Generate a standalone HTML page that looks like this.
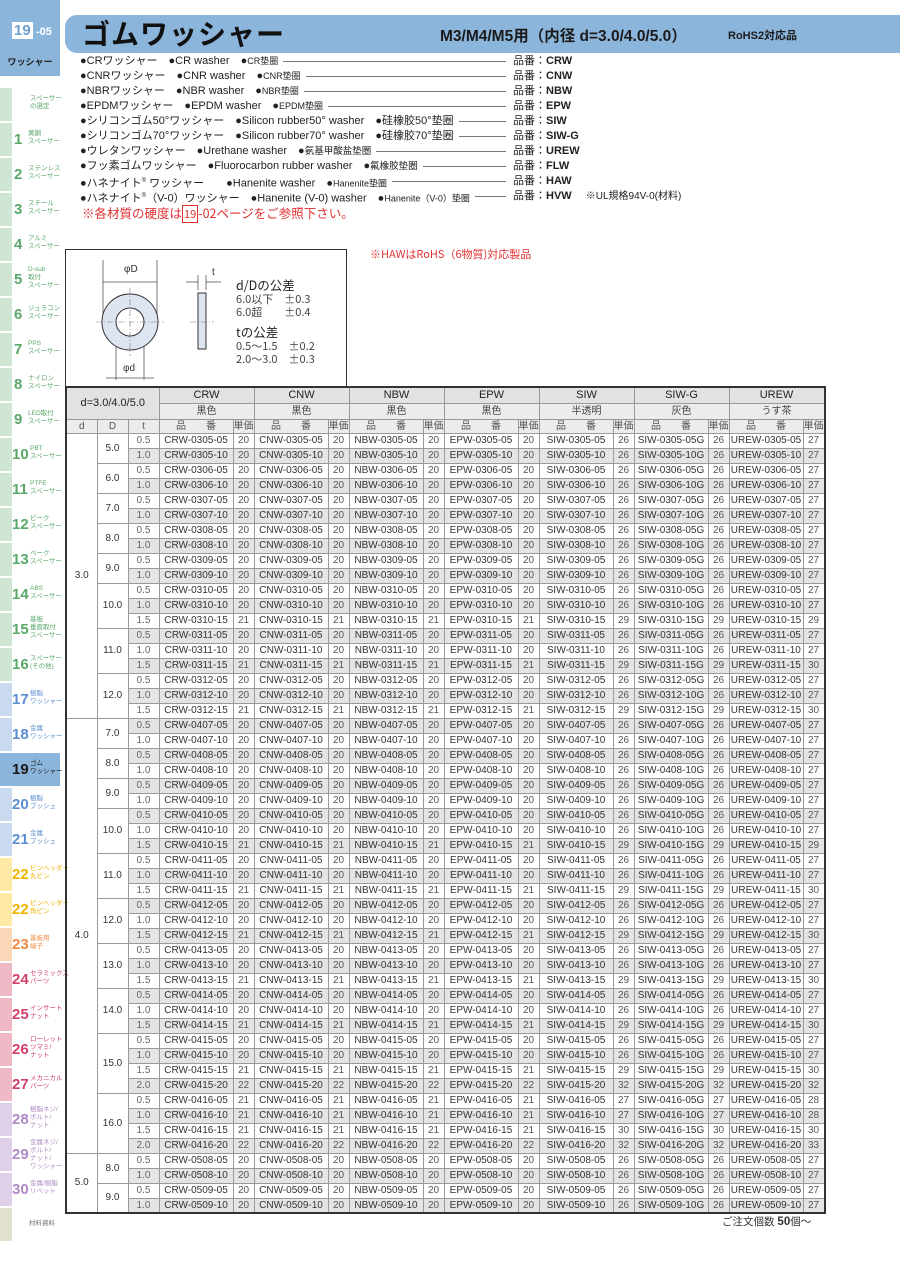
<!DOCTYPE html>
<html><head><meta charset="utf-8">
<style>
*{margin:0;padding:0;box-sizing:border-box}
body{width:900px;height:1272px;background:#fff;position:relative;overflow:hidden;font-family:"Liberation Sans","Noto Sans CJK JP",sans-serif;color:#222}
.abs{position:absolute}
.jp{font-family:"Noto Sans CJK JP","Liberation Sans",sans-serif}
#top{left:0;top:0;width:60px;height:76px;background:#8cb5dc}
#top .n{position:absolute;left:12px;top:22px;background:#fff;color:#6e9fcf;font-weight:bold;font-size:15px;line-height:17px;padding:0 2px}
#top .s{position:absolute;left:36px;top:26px;color:#fff;font-weight:bold;font-size:11px}
#top .w{position:absolute;left:0;width:60px;top:55px;text-align:center;font-size:9px;font-weight:bold;color:#222}
.tab{position:absolute;left:0;width:60px;height:33px;background:#fff}
.tab .st{position:absolute;left:0;top:0;width:12px;height:33px}
.tab .num{position:absolute;left:14px;top:8px;font-size:15px;font-weight:bold;line-height:17px}
.tab .lb{position:absolute;left:28px;top:7px;font-size:6.5px;line-height:8px;white-space:nowrap}
.tab.wide .num{left:12px}
.tab.wide .lb{left:30px}
#bar{left:65px;top:15px;width:835px;height:38px;background:#8cb5dc;border-radius:12px 0 0 12px}
#bar .t{position:absolute;left:17px;top:0px;font-size:28px;line-height:36px;font-weight:bold;color:#111;letter-spacing:1px}
#bar .m{position:absolute;left:375px;top:9px;font-size:15.5px;font-weight:bold;color:#1a1a1a}
#bar .r{position:absolute;left:663px;top:12px;font-size:11px;font-weight:bold;color:#1a1a1a}
.sp{left:80px;width:430px;display:flex;font-size:11px;line-height:15px;white-space:nowrap;color:#222}
.sp .f{flex:1;border-top:1px solid #777;margin:7px 4px 0 5px;height:0}
.pn{left:513px;font-size:11px;line-height:15px;white-space:nowrap}
.pn b{font-weight:bold}
#diag{left:65px;top:249px;width:282px;height:138px;border:1.5px solid #333;border-bottom:none}
table{position:absolute;left:65px;top:386px;border-collapse:collapse;table-layout:fixed;font-size:10px;border:2px solid #333}
td{border:1px solid #999;height:15px;line-height:13px;text-align:center;white-space:nowrap;overflow:hidden;color:#333;padding:0}
tr.g td.s{background:#e4e4e4}
td.p{color:#555}
td.t{color:#666}
.h1 td{background:#e2e2e2;height:16px;font-size:11px;color:#222}
.h2 td{background:#ececec;height:16px;font-size:10px;color:#444}
.h3 td{background:#ececec;height:14px;font-size:10px;color:#555}
td.gl{border-left:1.5px solid #666}
</style></head><body>

<div id="top" class="abs"><span class="n">19</span><span class="s">-05</span><div class="w jp">ワッシャー</div></div>

<div class="tab" style="top:88px"><div class="st" style="background:#cfe6d4"></div><div class="lb" style="color:#5aa86a;left:30px">スペーサー<br>の選定</div></div>
<div class="tab" style="top:123px"><div class="st" style="background:#cfe6d4"></div><div class="num" style="color:#5aa86a">1</div><div class="lb" style="color:#5aa86a">黄銅<br>スペーサー</div></div>
<div class="tab" style="top:158px"><div class="st" style="background:#cfe6d4"></div><div class="num" style="color:#5aa86a">2</div><div class="lb" style="color:#5aa86a">ステンレス<br>スペーサー</div></div>
<div class="tab" style="top:193px"><div class="st" style="background:#cfe6d4"></div><div class="num" style="color:#5aa86a">3</div><div class="lb" style="color:#5aa86a">スチール<br>スペーサー</div></div>
<div class="tab" style="top:228px"><div class="st" style="background:#cfe6d4"></div><div class="num" style="color:#5aa86a">4</div><div class="lb" style="color:#5aa86a">アルミ<br>スペーサー</div></div>
<div class="tab" style="top:263px"><div class="st" style="background:#cfe6d4"></div><div class="num" style="color:#5aa86a">5</div><div class="lb" style="color:#5aa86a;top:3px">D-sub<br>取付<br>スペーサー</div></div>
<div class="tab" style="top:298px"><div class="st" style="background:#cfe6d4"></div><div class="num" style="color:#5aa86a">6</div><div class="lb" style="color:#5aa86a">ジュラコン<br>スペーサー</div></div>
<div class="tab" style="top:333px"><div class="st" style="background:#cfe6d4"></div><div class="num" style="color:#5aa86a">7</div><div class="lb" style="color:#5aa86a">PPS<br>スペーサー</div></div>
<div class="tab" style="top:368px"><div class="st" style="background:#cfe6d4"></div><div class="num" style="color:#5aa86a">8</div><div class="lb" style="color:#5aa86a">ナイロン<br>スペーサー</div></div>
<div class="tab" style="top:403px"><div class="st" style="background:#cfe6d4"></div><div class="num" style="color:#5aa86a">9</div><div class="lb" style="color:#5aa86a">LED取付<br>スペーサー</div></div>
<div class="tab wide" style="top:438px"><div class="st" style="background:#cfe6d4"></div><div class="num" style="color:#5aa86a">10</div><div class="lb" style="color:#5aa86a">PBT<br>スペーサー</div></div>
<div class="tab wide" style="top:473px"><div class="st" style="background:#cfe6d4"></div><div class="num" style="color:#5aa86a">11</div><div class="lb" style="color:#5aa86a">PTFE<br>スペーサー</div></div>
<div class="tab wide" style="top:508px"><div class="st" style="background:#cfe6d4"></div><div class="num" style="color:#5aa86a">12</div><div class="lb" style="color:#5aa86a">ピーク<br>スペーサー</div></div>
<div class="tab wide" style="top:543px"><div class="st" style="background:#cfe6d4"></div><div class="num" style="color:#5aa86a">13</div><div class="lb" style="color:#5aa86a">ベーク<br>スペーサー</div></div>
<div class="tab wide" style="top:578px"><div class="st" style="background:#cfe6d4"></div><div class="num" style="color:#5aa86a">14</div><div class="lb" style="color:#5aa86a">ABS<br>スペーサー</div></div>
<div class="tab wide" style="top:613px"><div class="st" style="background:#cfe6d4"></div><div class="num" style="color:#5aa86a">15</div><div class="lb" style="color:#5aa86a;top:3px">基板<br>垂直取付<br>スペーサー</div></div>
<div class="tab wide" style="top:648px"><div class="st" style="background:#cfe6d4"></div><div class="num" style="color:#5aa86a">16</div><div class="lb" style="color:#5aa86a">スペーサー<br>(その他)</div></div>
<div class="tab wide" style="top:683px"><div class="st" style="background:#c9d9ef"></div><div class="num" style="color:#5b8ed0">17</div><div class="lb" style="color:#5b8ed0">樹脂<br>ワッシャー</div></div>
<div class="tab wide" style="top:718px"><div class="st" style="background:#c9d9ef"></div><div class="num" style="color:#5b8ed0">18</div><div class="lb" style="color:#5b8ed0">金属<br>ワッシャー</div></div>
<div class="tab wide" style="top:753px;background:#8cb5dc"><div class="num" style="color:#1a1a1a">19</div><div class="lb" style="color:#1a1a1a">ゴム<br>ワッシャー</div></div>
<div class="tab wide" style="top:788px"><div class="st" style="background:#c9d9ef"></div><div class="num" style="color:#5b8ed0">20</div><div class="lb" style="color:#5b8ed0">樹脂<br>ブッシュ</div></div>
<div class="tab wide" style="top:823px"><div class="st" style="background:#c9d9ef"></div><div class="num" style="color:#5b8ed0">21</div><div class="lb" style="color:#5b8ed0">金属<br>ブッシュ</div></div>
<div class="tab wide" style="top:858px"><div class="st" style="background:#fde8a6"></div><div class="num" style="color:#efb400">22</div><div class="lb" style="color:#efb400">ピンヘッダー<br>丸ピン</div></div>
<div class="tab wide" style="top:893px"><div class="st" style="background:#fde8a6"></div><div class="num" style="color:#efb400">22</div><div class="lb" style="color:#efb400">ピンヘッダー<br>角ピン</div></div>
<div class="tab wide" style="top:928px"><div class="st" style="background:#fbd7b8"></div><div class="num" style="color:#f08a40">23</div><div class="lb" style="color:#f08a40">基板用<br>端子</div></div>
<div class="tab wide" style="top:963px"><div class="st" style="background:#f0b9c6"></div><div class="num" style="color:#d0406a">24</div><div class="lb" style="color:#d0406a">セラミックス<br>パーツ</div></div>
<div class="tab wide" style="top:998px"><div class="st" style="background:#f0b9c6"></div><div class="num" style="color:#d0406a">25</div><div class="lb" style="color:#d0406a">インサート<br>ナット</div></div>
<div class="tab wide" style="top:1033px"><div class="st" style="background:#f0b9c6"></div><div class="num" style="color:#d0406a">26</div><div class="lb" style="color:#d0406a;top:3px">ローレット<br>ツマミ/<br>ナット</div></div>
<div class="tab wide" style="top:1068px"><div class="st" style="background:#f0b9c6"></div><div class="num" style="color:#d0406a">27</div><div class="lb" style="color:#d0406a">メカニカル<br>パーツ</div></div>
<div class="tab wide" style="top:1103px"><div class="st" style="background:#ddd0e8"></div><div class="num" style="color:#b08ac4">28</div><div class="lb" style="color:#b08ac4;top:3px">樹脂ネジ/<br>ボルト/<br>ナット</div></div>
<div class="tab wide" style="top:1138px"><div class="st" style="background:#ddd0e8"></div><div class="num" style="color:#b08ac4">29</div><div class="lb" style="color:#b08ac4;top:1px">金属ネジ/<br>ボルト/<br>ナット/<br>ワッシャー</div></div>
<div class="tab wide" style="top:1173px"><div class="st" style="background:#ddd0e8"></div><div class="num" style="color:#b08ac4">30</div><div class="lb" style="color:#b08ac4">金属/樹脂<br>リベット</div></div>
<div class="tab" style="top:1208px"><div class="st" style="background:#e0e0cc"></div><div class="lb" style="color:#777;left:29px;top:12px">材料資料</div></div>

<div id="bar" class="abs"><span class="t jp">ゴムワッシャー</span><span class="m">M3/M4/M5用（内径 d=3.0/4.0/5.0）</span><span class="r">RoHS2対応品</span></div>

<div class="abs sp" style="top:54px"><span>●CRワッシャー　●CR washer　●<span style="font-size:9px">CR垫圈</span></span><span class="f"></span></div>
<div class="abs sp" style="top:69px"><span>●CNRワッシャー　●CNR washer　●<span style="font-size:9px">CNR垫圈</span></span><span class="f"></span></div>
<div class="abs sp" style="top:84px"><span>●NBRワッシャー　●NBR washer　●<span style="font-size:9px">NBR垫圈</span></span><span class="f"></span></div>
<div class="abs sp" style="top:99px"><span>●EPDMワッシャー　●EPDM washer　●<span style="font-size:9px">EPDM垫圈</span></span><span class="f"></span></div>
<div class="abs sp" style="top:114px"><span>●シリコンゴム50°ワッシャー　●Silicon rubber50°  washer　●硅橡胶50°垫圈</span><span class="f"></span></div>
<div class="abs sp" style="top:129px"><span>●シリコンゴム70°ワッシャー　●Silicon rubber70°  washer　●硅橡胶70°垫圈</span><span class="f"></span></div>
<div class="abs sp" style="top:144px"><span>●ウレタンワッシャー　●Urethane washer　●<span style="font-size:9.5px">氨基甲酸盐垫圈</span></span><span class="f"></span></div>
<div class="abs sp" style="top:159px"><span>●フッ素ゴムワッシャー　●Fluorocarbon rubber washer　●<span style="font-size:9.5px">氟橡胶垫圈</span></span><span class="f"></span></div>
<div class="abs sp" style="top:174px"><span>●ハネナイト<sup style="font-size:6px">®</sup> ワッシャー　　●Hanenite washer　●<span style="font-size:9px">Hanenite垫圈</span></span><span class="f"></span></div>
<div class="abs sp" style="top:189px"><span>●ハネナイト<sup style="font-size:6px">®</sup>（V-0）ワッシャー　●Hanenite (V-0) washer　●<span style="font-size:9px">Hanenite（V-0）垫圈</span></span><span class="f"></span></div>
<div class="abs pn" style="top:54px">品番：<b>CRW</b></div>
<div class="abs pn" style="top:69px">品番：<b>CNW</b></div>
<div class="abs pn" style="top:84px">品番：<b>NBW</b></div>
<div class="abs pn" style="top:99px">品番：<b>EPW</b></div>
<div class="abs pn" style="top:114px">品番：<b>SIW</b></div>
<div class="abs pn" style="top:129px">品番：<b>SIW-G</b></div>
<div class="abs pn" style="top:144px">品番：<b>UREW</b></div>
<div class="abs pn" style="top:159px">品番：<b>FLW</b></div>
<div class="abs pn" style="top:174px">品番：<b>HAW</b></div>
<div class="abs pn" style="top:189px">品番：<b>HVW</b>　 <span style="font-size:10px">※UL規格94V-0(材料)</span></div>
<div class="abs jp" style="left:82px;top:203px;font-size:12.5px;color:#e03030;white-space:nowrap">※各材質の硬度は<span style="border:1px solid #e03030;padding:0 1px;font-size:11px">19</span>-02ページをご参照下さい。</div>
<div class="abs jp" style="left:370px;top:246px;font-size:11px;color:#e03030;white-space:nowrap">※HAWはRoHS（6物質)対応製品</div>

<div id="diag" class="abs">
<svg width="280" height="137" viewBox="0 0 280 137" style="position:absolute;left:0;top:0">
<g stroke="#555" stroke-width="0.8" fill="none">
<line x1="37" y1="10" x2="37" y2="72"/><line x1="91" y1="10" x2="91" y2="72"/>
<line x1="37" y1="32" x2="91" y2="32"/>
<line x1="50" y1="72" x2="50" y2="130"/><line x1="78" y1="72" x2="78" y2="130"/>
<line x1="40" y1="128" x2="88" y2="128"/>
<line x1="132" y1="25" x2="132" y2="40"/><line x1="140" y1="25" x2="140" y2="40"/>
<line x1="120" y1="32" x2="132" y2="32"/><line x1="140" y1="32" x2="155" y2="32"/>
</g>
<circle cx="64" cy="72" r="28" fill="#dde5f3" stroke="#333" stroke-width="1"/>
<circle cx="64" cy="72" r="14" fill="#fff" stroke="#333" stroke-width="1"/>
<rect x="132" y="43" width="8" height="56" fill="#dde5f3" stroke="#333" stroke-width="1"/>
<g stroke="#777" stroke-width="0.6" stroke-dasharray="6,2,1,2">
<line x1="30" y1="72" x2="98" y2="72"/><line x1="64" y1="38" x2="64" y2="106"/>
<line x1="124" y1="72" x2="148" y2="72"/>
</g>
<text x="58" y="22" font-size="10" fill="#333" font-family="Liberation Sans">φD</text>
<text x="57" y="121" font-size="10" fill="#333" font-family="Liberation Sans">φd</text>
<text x="146" y="25" font-size="10" fill="#333" font-family="Liberation Sans">t</text>
</svg>
<div class="abs jp" style="left:170px;top:27px;font-size:12.5px;line-height:16px;color:#222">d/Dの公差</div>
<div class="abs jp" style="left:170px;top:43px;font-size:11px;line-height:13px;color:#444;white-space:pre">6.0以下　±0.3
6.0超　　±0.4</div>
<div class="abs jp" style="left:170px;top:74px;font-size:12.5px;line-height:16px;color:#222">tの公差</div>
<div class="abs jp" style="left:170px;top:90px;font-size:11px;line-height:13px;color:#444;white-space:pre">0.5～1.5　±0.2
2.0～3.0　±0.3</div>
</div>

<table>
<colgroup><col style="width:31px"><col style="width:31px"><col style="width:31px"><col style="width:74px"><col style="width:20px"><col style="width:74px"><col style="width:20px"><col style="width:74px"><col style="width:20px"><col style="width:74px"><col style="width:20px"><col style="width:74px"><col style="width:20px"><col style="width:74px"><col style="width:20px"><col style="width:74px"><col style="width:20px"></colgroup>
<tr class="h1"><td colspan="3" rowspan="2" style="font-size:11px">d=3.0/4.0/5.0</td><td colspan="2">CRW</td><td colspan="2" class="gl">CNW</td><td colspan="2" class="gl">NBW</td><td colspan="2" class="gl">EPW</td><td colspan="2" class="gl">SIW</td><td colspan="2" class="gl">SIW-G</td><td colspan="2" class="gl">UREW</td></tr>
<tr class="h2"><td colspan="2">黒色</td><td colspan="2" class="gl">黒色</td><td colspan="2" class="gl">黒色</td><td colspan="2" class="gl">黒色</td><td colspan="2" class="gl">半透明</td><td colspan="2" class="gl">灰色</td><td colspan="2" class="gl">うす茶</td></tr>
<tr class="h3"><td>d</td><td>D</td><td>t</td><td>品　　番</td><td>単価</td><td class="gl">品　　番</td><td>単価</td><td class="gl">品　　番</td><td>単価</td><td class="gl">品　　番</td><td>単価</td><td class="gl">品　　番</td><td>単価</td><td class="gl">品　　番</td><td>単価</td><td class="gl">品　　番</td><td>単価</td></tr>

<tr><td rowspan="19">3.0</td><td rowspan="2">5.0</td><td class="s t">0.5</td><td class="s">CRW-0305-05</td><td class="s p">20</td><td class="s gl">CNW-0305-05</td><td class="s p">20</td><td class="s gl">NBW-0305-05</td><td class="s p">20</td><td class="s gl">EPW-0305-05</td><td class="s p">20</td><td class="s gl">SIW-0305-05</td><td class="s p">26</td><td class="s gl">SIW-0305-05G</td><td class="s p">26</td><td class="s gl">UREW-0305-05</td><td class="s p">27</td></tr>
<tr class="g"><td class="s t">1.0</td><td class="s">CRW-0305-10</td><td class="s p">20</td><td class="s gl">CNW-0305-10</td><td class="s p">20</td><td class="s gl">NBW-0305-10</td><td class="s p">20</td><td class="s gl">EPW-0305-10</td><td class="s p">20</td><td class="s gl">SIW-0305-10</td><td class="s p">26</td><td class="s gl">SIW-0305-10G</td><td class="s p">26</td><td class="s gl">UREW-0305-10</td><td class="s p">27</td></tr>
<tr><td rowspan="2">6.0</td><td class="s t">0.5</td><td class="s">CRW-0306-05</td><td class="s p">20</td><td class="s gl">CNW-0306-05</td><td class="s p">20</td><td class="s gl">NBW-0306-05</td><td class="s p">20</td><td class="s gl">EPW-0306-05</td><td class="s p">20</td><td class="s gl">SIW-0306-05</td><td class="s p">26</td><td class="s gl">SIW-0306-05G</td><td class="s p">26</td><td class="s gl">UREW-0306-05</td><td class="s p">27</td></tr>
<tr class="g"><td class="s t">1.0</td><td class="s">CRW-0306-10</td><td class="s p">20</td><td class="s gl">CNW-0306-10</td><td class="s p">20</td><td class="s gl">NBW-0306-10</td><td class="s p">20</td><td class="s gl">EPW-0306-10</td><td class="s p">20</td><td class="s gl">SIW-0306-10</td><td class="s p">26</td><td class="s gl">SIW-0306-10G</td><td class="s p">26</td><td class="s gl">UREW-0306-10</td><td class="s p">27</td></tr>
<tr><td rowspan="2">7.0</td><td class="s t">0.5</td><td class="s">CRW-0307-05</td><td class="s p">20</td><td class="s gl">CNW-0307-05</td><td class="s p">20</td><td class="s gl">NBW-0307-05</td><td class="s p">20</td><td class="s gl">EPW-0307-05</td><td class="s p">20</td><td class="s gl">SIW-0307-05</td><td class="s p">26</td><td class="s gl">SIW-0307-05G</td><td class="s p">26</td><td class="s gl">UREW-0307-05</td><td class="s p">27</td></tr>
<tr class="g"><td class="s t">1.0</td><td class="s">CRW-0307-10</td><td class="s p">20</td><td class="s gl">CNW-0307-10</td><td class="s p">20</td><td class="s gl">NBW-0307-10</td><td class="s p">20</td><td class="s gl">EPW-0307-10</td><td class="s p">20</td><td class="s gl">SIW-0307-10</td><td class="s p">26</td><td class="s gl">SIW-0307-10G</td><td class="s p">26</td><td class="s gl">UREW-0307-10</td><td class="s p">27</td></tr>
<tr><td rowspan="2">8.0</td><td class="s t">0.5</td><td class="s">CRW-0308-05</td><td class="s p">20</td><td class="s gl">CNW-0308-05</td><td class="s p">20</td><td class="s gl">NBW-0308-05</td><td class="s p">20</td><td class="s gl">EPW-0308-05</td><td class="s p">20</td><td class="s gl">SIW-0308-05</td><td class="s p">26</td><td class="s gl">SIW-0308-05G</td><td class="s p">26</td><td class="s gl">UREW-0308-05</td><td class="s p">27</td></tr>
<tr class="g"><td class="s t">1.0</td><td class="s">CRW-0308-10</td><td class="s p">20</td><td class="s gl">CNW-0308-10</td><td class="s p">20</td><td class="s gl">NBW-0308-10</td><td class="s p">20</td><td class="s gl">EPW-0308-10</td><td class="s p">20</td><td class="s gl">SIW-0308-10</td><td class="s p">26</td><td class="s gl">SIW-0308-10G</td><td class="s p">26</td><td class="s gl">UREW-0308-10</td><td class="s p">27</td></tr>
<tr><td rowspan="2">9.0</td><td class="s t">0.5</td><td class="s">CRW-0309-05</td><td class="s p">20</td><td class="s gl">CNW-0309-05</td><td class="s p">20</td><td class="s gl">NBW-0309-05</td><td class="s p">20</td><td class="s gl">EPW-0309-05</td><td class="s p">20</td><td class="s gl">SIW-0309-05</td><td class="s p">26</td><td class="s gl">SIW-0309-05G</td><td class="s p">26</td><td class="s gl">UREW-0309-05</td><td class="s p">27</td></tr>
<tr class="g"><td class="s t">1.0</td><td class="s">CRW-0309-10</td><td class="s p">20</td><td class="s gl">CNW-0309-10</td><td class="s p">20</td><td class="s gl">NBW-0309-10</td><td class="s p">20</td><td class="s gl">EPW-0309-10</td><td class="s p">20</td><td class="s gl">SIW-0309-10</td><td class="s p">26</td><td class="s gl">SIW-0309-10G</td><td class="s p">26</td><td class="s gl">UREW-0309-10</td><td class="s p">27</td></tr>
<tr><td rowspan="3">10.0</td><td class="s t">0.5</td><td class="s">CRW-0310-05</td><td class="s p">20</td><td class="s gl">CNW-0310-05</td><td class="s p">20</td><td class="s gl">NBW-0310-05</td><td class="s p">20</td><td class="s gl">EPW-0310-05</td><td class="s p">20</td><td class="s gl">SIW-0310-05</td><td class="s p">26</td><td class="s gl">SIW-0310-05G</td><td class="s p">26</td><td class="s gl">UREW-0310-05</td><td class="s p">27</td></tr>
<tr class="g"><td class="s t">1.0</td><td class="s">CRW-0310-10</td><td class="s p">20</td><td class="s gl">CNW-0310-10</td><td class="s p">20</td><td class="s gl">NBW-0310-10</td><td class="s p">20</td><td class="s gl">EPW-0310-10</td><td class="s p">20</td><td class="s gl">SIW-0310-10</td><td class="s p">26</td><td class="s gl">SIW-0310-10G</td><td class="s p">26</td><td class="s gl">UREW-0310-10</td><td class="s p">27</td></tr>
<tr><td class="s t">1.5</td><td class="s">CRW-0310-15</td><td class="s p">21</td><td class="s gl">CNW-0310-15</td><td class="s p">21</td><td class="s gl">NBW-0310-15</td><td class="s p">21</td><td class="s gl">EPW-0310-15</td><td class="s p">21</td><td class="s gl">SIW-0310-15</td><td class="s p">29</td><td class="s gl">SIW-0310-15G</td><td class="s p">29</td><td class="s gl">UREW-0310-15</td><td class="s p">29</td></tr>
<tr class="g"><td rowspan="3">11.0</td><td class="s t">0.5</td><td class="s">CRW-0311-05</td><td class="s p">20</td><td class="s gl">CNW-0311-05</td><td class="s p">20</td><td class="s gl">NBW-0311-05</td><td class="s p">20</td><td class="s gl">EPW-0311-05</td><td class="s p">20</td><td class="s gl">SIW-0311-05</td><td class="s p">26</td><td class="s gl">SIW-0311-05G</td><td class="s p">26</td><td class="s gl">UREW-0311-05</td><td class="s p">27</td></tr>
<tr><td class="s t">1.0</td><td class="s">CRW-0311-10</td><td class="s p">20</td><td class="s gl">CNW-0311-10</td><td class="s p">20</td><td class="s gl">NBW-0311-10</td><td class="s p">20</td><td class="s gl">EPW-0311-10</td><td class="s p">20</td><td class="s gl">SIW-0311-10</td><td class="s p">26</td><td class="s gl">SIW-0311-10G</td><td class="s p">26</td><td class="s gl">UREW-0311-10</td><td class="s p">27</td></tr>
<tr class="g"><td class="s t">1.5</td><td class="s">CRW-0311-15</td><td class="s p">21</td><td class="s gl">CNW-0311-15</td><td class="s p">21</td><td class="s gl">NBW-0311-15</td><td class="s p">21</td><td class="s gl">EPW-0311-15</td><td class="s p">21</td><td class="s gl">SIW-0311-15</td><td class="s p">29</td><td class="s gl">SIW-0311-15G</td><td class="s p">29</td><td class="s gl">UREW-0311-15</td><td class="s p">30</td></tr>
<tr><td rowspan="3">12.0</td><td class="s t">0.5</td><td class="s">CRW-0312-05</td><td class="s p">20</td><td class="s gl">CNW-0312-05</td><td class="s p">20</td><td class="s gl">NBW-0312-05</td><td class="s p">20</td><td class="s gl">EPW-0312-05</td><td class="s p">20</td><td class="s gl">SIW-0312-05</td><td class="s p">26</td><td class="s gl">SIW-0312-05G</td><td class="s p">26</td><td class="s gl">UREW-0312-05</td><td class="s p">27</td></tr>
<tr class="g"><td class="s t">1.0</td><td class="s">CRW-0312-10</td><td class="s p">20</td><td class="s gl">CNW-0312-10</td><td class="s p">20</td><td class="s gl">NBW-0312-10</td><td class="s p">20</td><td class="s gl">EPW-0312-10</td><td class="s p">20</td><td class="s gl">SIW-0312-10</td><td class="s p">26</td><td class="s gl">SIW-0312-10G</td><td class="s p">26</td><td class="s gl">UREW-0312-10</td><td class="s p">27</td></tr>
<tr><td class="s t">1.5</td><td class="s">CRW-0312-15</td><td class="s p">21</td><td class="s gl">CNW-0312-15</td><td class="s p">21</td><td class="s gl">NBW-0312-15</td><td class="s p">21</td><td class="s gl">EPW-0312-15</td><td class="s p">21</td><td class="s gl">SIW-0312-15</td><td class="s p">29</td><td class="s gl">SIW-0312-15G</td><td class="s p">29</td><td class="s gl">UREW-0312-15</td><td class="s p">30</td></tr>

<tr class="g" style="border-top:1.5px solid #555"><td rowspan="29">4.0</td><td rowspan="2">7.0</td><td class="s t">0.5</td><td class="s">CRW-0407-05</td><td class="s p">20</td><td class="s gl">CNW-0407-05</td><td class="s p">20</td><td class="s gl">NBW-0407-05</td><td class="s p">20</td><td class="s gl">EPW-0407-05</td><td class="s p">20</td><td class="s gl">SIW-0407-05</td><td class="s p">26</td><td class="s gl">SIW-0407-05G</td><td class="s p">26</td><td class="s gl">UREW-0407-05</td><td class="s p">27</td></tr>
<tr><td class="s t">1.0</td><td class="s">CRW-0407-10</td><td class="s p">20</td><td class="s gl">CNW-0407-10</td><td class="s p">20</td><td class="s gl">NBW-0407-10</td><td class="s p">20</td><td class="s gl">EPW-0407-10</td><td class="s p">20</td><td class="s gl">SIW-0407-10</td><td class="s p">26</td><td class="s gl">SIW-0407-10G</td><td class="s p">26</td><td class="s gl">UREW-0407-10</td><td class="s p">27</td></tr>
<tr class="g"><td rowspan="2">8.0</td><td class="s t">0.5</td><td class="s">CRW-0408-05</td><td class="s p">20</td><td class="s gl">CNW-0408-05</td><td class="s p">20</td><td class="s gl">NBW-0408-05</td><td class="s p">20</td><td class="s gl">EPW-0408-05</td><td class="s p">20</td><td class="s gl">SIW-0408-05</td><td class="s p">26</td><td class="s gl">SIW-0408-05G</td><td class="s p">26</td><td class="s gl">UREW-0408-05</td><td class="s p">27</td></tr>
<tr><td class="s t">1.0</td><td class="s">CRW-0408-10</td><td class="s p">20</td><td class="s gl">CNW-0408-10</td><td class="s p">20</td><td class="s gl">NBW-0408-10</td><td class="s p">20</td><td class="s gl">EPW-0408-10</td><td class="s p">20</td><td class="s gl">SIW-0408-10</td><td class="s p">26</td><td class="s gl">SIW-0408-10G</td><td class="s p">26</td><td class="s gl">UREW-0408-10</td><td class="s p">27</td></tr>
<tr class="g"><td rowspan="2">9.0</td><td class="s t">0.5</td><td class="s">CRW-0409-05</td><td class="s p">20</td><td class="s gl">CNW-0409-05</td><td class="s p">20</td><td class="s gl">NBW-0409-05</td><td class="s p">20</td><td class="s gl">EPW-0409-05</td><td class="s p">20</td><td class="s gl">SIW-0409-05</td><td class="s p">26</td><td class="s gl">SIW-0409-05G</td><td class="s p">26</td><td class="s gl">UREW-0409-05</td><td class="s p">27</td></tr>
<tr><td class="s t">1.0</td><td class="s">CRW-0409-10</td><td class="s p">20</td><td class="s gl">CNW-0409-10</td><td class="s p">20</td><td class="s gl">NBW-0409-10</td><td class="s p">20</td><td class="s gl">EPW-0409-10</td><td class="s p">20</td><td class="s gl">SIW-0409-10</td><td class="s p">26</td><td class="s gl">SIW-0409-10G</td><td class="s p">26</td><td class="s gl">UREW-0409-10</td><td class="s p">27</td></tr>
<tr class="g"><td rowspan="3">10.0</td><td class="s t">0.5</td><td class="s">CRW-0410-05</td><td class="s p">20</td><td class="s gl">CNW-0410-05</td><td class="s p">20</td><td class="s gl">NBW-0410-05</td><td class="s p">20</td><td class="s gl">EPW-0410-05</td><td class="s p">20</td><td class="s gl">SIW-0410-05</td><td class="s p">26</td><td class="s gl">SIW-0410-05G</td><td class="s p">26</td><td class="s gl">UREW-0410-05</td><td class="s p">27</td></tr>
<tr><td class="s t">1.0</td><td class="s">CRW-0410-10</td><td class="s p">20</td><td class="s gl">CNW-0410-10</td><td class="s p">20</td><td class="s gl">NBW-0410-10</td><td class="s p">20</td><td class="s gl">EPW-0410-10</td><td class="s p">20</td><td class="s gl">SIW-0410-10</td><td class="s p">26</td><td class="s gl">SIW-0410-10G</td><td class="s p">26</td><td class="s gl">UREW-0410-10</td><td class="s p">27</td></tr>
<tr class="g"><td class="s t">1.5</td><td class="s">CRW-0410-15</td><td class="s p">21</td><td class="s gl">CNW-0410-15</td><td class="s p">21</td><td class="s gl">NBW-0410-15</td><td class="s p">21</td><td class="s gl">EPW-0410-15</td><td class="s p">21</td><td class="s gl">SIW-0410-15</td><td class="s p">29</td><td class="s gl">SIW-0410-15G</td><td class="s p">29</td><td class="s gl">UREW-0410-15</td><td class="s p">29</td></tr>
<tr><td rowspan="3">11.0</td><td class="s t">0.5</td><td class="s">CRW-0411-05</td><td class="s p">20</td><td class="s gl">CNW-0411-05</td><td class="s p">20</td><td class="s gl">NBW-0411-05</td><td class="s p">20</td><td class="s gl">EPW-0411-05</td><td class="s p">20</td><td class="s gl">SIW-0411-05</td><td class="s p">26</td><td class="s gl">SIW-0411-05G</td><td class="s p">26</td><td class="s gl">UREW-0411-05</td><td class="s p">27</td></tr>
<tr class="g"><td class="s t">1.0</td><td class="s">CRW-0411-10</td><td class="s p">20</td><td class="s gl">CNW-0411-10</td><td class="s p">20</td><td class="s gl">NBW-0411-10</td><td class="s p">20</td><td class="s gl">EPW-0411-10</td><td class="s p">20</td><td class="s gl">SIW-0411-10</td><td class="s p">26</td><td class="s gl">SIW-0411-10G</td><td class="s p">26</td><td class="s gl">UREW-0411-10</td><td class="s p">27</td></tr>
<tr><td class="s t">1.5</td><td class="s">CRW-0411-15</td><td class="s p">21</td><td class="s gl">CNW-0411-15</td><td class="s p">21</td><td class="s gl">NBW-0411-15</td><td class="s p">21</td><td class="s gl">EPW-0411-15</td><td class="s p">21</td><td class="s gl">SIW-0411-15</td><td class="s p">29</td><td class="s gl">SIW-0411-15G</td><td class="s p">29</td><td class="s gl">UREW-0411-15</td><td class="s p">30</td></tr>
<tr class="g"><td rowspan="3">12.0</td><td class="s t">0.5</td><td class="s">CRW-0412-05</td><td class="s p">20</td><td class="s gl">CNW-0412-05</td><td class="s p">20</td><td class="s gl">NBW-0412-05</td><td class="s p">20</td><td class="s gl">EPW-0412-05</td><td class="s p">20</td><td class="s gl">SIW-0412-05</td><td class="s p">26</td><td class="s gl">SIW-0412-05G</td><td class="s p">26</td><td class="s gl">UREW-0412-05</td><td class="s p">27</td></tr>
<tr><td class="s t">1.0</td><td class="s">CRW-0412-10</td><td class="s p">20</td><td class="s gl">CNW-0412-10</td><td class="s p">20</td><td class="s gl">NBW-0412-10</td><td class="s p">20</td><td class="s gl">EPW-0412-10</td><td class="s p">20</td><td class="s gl">SIW-0412-10</td><td class="s p">26</td><td class="s gl">SIW-0412-10G</td><td class="s p">26</td><td class="s gl">UREW-0412-10</td><td class="s p">27</td></tr>
<tr class="g"><td class="s t">1.5</td><td class="s">CRW-0412-15</td><td class="s p">21</td><td class="s gl">CNW-0412-15</td><td class="s p">21</td><td class="s gl">NBW-0412-15</td><td class="s p">21</td><td class="s gl">EPW-0412-15</td><td class="s p">21</td><td class="s gl">SIW-0412-15</td><td class="s p">29</td><td class="s gl">SIW-0412-15G</td><td class="s p">29</td><td class="s gl">UREW-0412-15</td><td class="s p">30</td></tr>
<tr><td rowspan="3">13.0</td><td class="s t">0.5</td><td class="s">CRW-0413-05</td><td class="s p">20</td><td class="s gl">CNW-0413-05</td><td class="s p">20</td><td class="s gl">NBW-0413-05</td><td class="s p">20</td><td class="s gl">EPW-0413-05</td><td class="s p">20</td><td class="s gl">SIW-0413-05</td><td class="s p">26</td><td class="s gl">SIW-0413-05G</td><td class="s p">26</td><td class="s gl">UREW-0413-05</td><td class="s p">27</td></tr>
<tr class="g"><td class="s t">1.0</td><td class="s">CRW-0413-10</td><td class="s p">20</td><td class="s gl">CNW-0413-10</td><td class="s p">20</td><td class="s gl">NBW-0413-10</td><td class="s p">20</td><td class="s gl">EPW-0413-10</td><td class="s p">20</td><td class="s gl">SIW-0413-10</td><td class="s p">26</td><td class="s gl">SIW-0413-10G</td><td class="s p">26</td><td class="s gl">UREW-0413-10</td><td class="s p">27</td></tr>
<tr><td class="s t">1.5</td><td class="s">CRW-0413-15</td><td class="s p">21</td><td class="s gl">CNW-0413-15</td><td class="s p">21</td><td class="s gl">NBW-0413-15</td><td class="s p">21</td><td class="s gl">EPW-0413-15</td><td class="s p">21</td><td class="s gl">SIW-0413-15</td><td class="s p">29</td><td class="s gl">SIW-0413-15G</td><td class="s p">29</td><td class="s gl">UREW-0413-15</td><td class="s p">30</td></tr>
<tr class="g"><td rowspan="3">14.0</td><td class="s t">0.5</td><td class="s">CRW-0414-05</td><td class="s p">20</td><td class="s gl">CNW-0414-05</td><td class="s p">20</td><td class="s gl">NBW-0414-05</td><td class="s p">20</td><td class="s gl">EPW-0414-05</td><td class="s p">20</td><td class="s gl">SIW-0414-05</td><td class="s p">26</td><td class="s gl">SIW-0414-05G</td><td class="s p">26</td><td class="s gl">UREW-0414-05</td><td class="s p">27</td></tr>
<tr><td class="s t">1.0</td><td class="s">CRW-0414-10</td><td class="s p">20</td><td class="s gl">CNW-0414-10</td><td class="s p">20</td><td class="s gl">NBW-0414-10</td><td class="s p">20</td><td class="s gl">EPW-0414-10</td><td class="s p">20</td><td class="s gl">SIW-0414-10</td><td class="s p">26</td><td class="s gl">SIW-0414-10G</td><td class="s p">26</td><td class="s gl">UREW-0414-10</td><td class="s p">27</td></tr>
<tr class="g"><td class="s t">1.5</td><td class="s">CRW-0414-15</td><td class="s p">21</td><td class="s gl">CNW-0414-15</td><td class="s p">21</td><td class="s gl">NBW-0414-15</td><td class="s p">21</td><td class="s gl">EPW-0414-15</td><td class="s p">21</td><td class="s gl">SIW-0414-15</td><td class="s p">29</td><td class="s gl">SIW-0414-15G</td><td class="s p">29</td><td class="s gl">UREW-0414-15</td><td class="s p">30</td></tr>
<tr><td rowspan="4">15.0</td><td class="s t">0.5</td><td class="s">CRW-0415-05</td><td class="s p">20</td><td class="s gl">CNW-0415-05</td><td class="s p">20</td><td class="s gl">NBW-0415-05</td><td class="s p">20</td><td class="s gl">EPW-0415-05</td><td class="s p">20</td><td class="s gl">SIW-0415-05</td><td class="s p">26</td><td class="s gl">SIW-0415-05G</td><td class="s p">26</td><td class="s gl">UREW-0415-05</td><td class="s p">27</td></tr>
<tr class="g"><td class="s t">1.0</td><td class="s">CRW-0415-10</td><td class="s p">20</td><td class="s gl">CNW-0415-10</td><td class="s p">20</td><td class="s gl">NBW-0415-10</td><td class="s p">20</td><td class="s gl">EPW-0415-10</td><td class="s p">20</td><td class="s gl">SIW-0415-10</td><td class="s p">26</td><td class="s gl">SIW-0415-10G</td><td class="s p">26</td><td class="s gl">UREW-0415-10</td><td class="s p">27</td></tr>
<tr><td class="s t">1.5</td><td class="s">CRW-0415-15</td><td class="s p">21</td><td class="s gl">CNW-0415-15</td><td class="s p">21</td><td class="s gl">NBW-0415-15</td><td class="s p">21</td><td class="s gl">EPW-0415-15</td><td class="s p">21</td><td class="s gl">SIW-0415-15</td><td class="s p">29</td><td class="s gl">SIW-0415-15G</td><td class="s p">29</td><td class="s gl">UREW-0415-15</td><td class="s p">30</td></tr>
<tr class="g"><td class="s t">2.0</td><td class="s">CRW-0415-20</td><td class="s p">22</td><td class="s gl">CNW-0415-20</td><td class="s p">22</td><td class="s gl">NBW-0415-20</td><td class="s p">22</td><td class="s gl">EPW-0415-20</td><td class="s p">22</td><td class="s gl">SIW-0415-20</td><td class="s p">32</td><td class="s gl">SIW-0415-20G</td><td class="s p">32</td><td class="s gl">UREW-0415-20</td><td class="s p">32</td></tr>
<tr><td rowspan="4">16.0</td><td class="s t">0.5</td><td class="s">CRW-0416-05</td><td class="s p">21</td><td class="s gl">CNW-0416-05</td><td class="s p">21</td><td class="s gl">NBW-0416-05</td><td class="s p">21</td><td class="s gl">EPW-0416-05</td><td class="s p">21</td><td class="s gl">SIW-0416-05</td><td class="s p">27</td><td class="s gl">SIW-0416-05G</td><td class="s p">27</td><td class="s gl">UREW-0416-05</td><td class="s p">28</td></tr>
<tr class="g"><td class="s t">1.0</td><td class="s">CRW-0416-10</td><td class="s p">21</td><td class="s gl">CNW-0416-10</td><td class="s p">21</td><td class="s gl">NBW-0416-10</td><td class="s p">21</td><td class="s gl">EPW-0416-10</td><td class="s p">21</td><td class="s gl">SIW-0416-10</td><td class="s p">27</td><td class="s gl">SIW-0416-10G</td><td class="s p">27</td><td class="s gl">UREW-0416-10</td><td class="s p">28</td></tr>
<tr><td class="s t">1.5</td><td class="s">CRW-0416-15</td><td class="s p">21</td><td class="s gl">CNW-0416-15</td><td class="s p">21</td><td class="s gl">NBW-0416-15</td><td class="s p">21</td><td class="s gl">EPW-0416-15</td><td class="s p">21</td><td class="s gl">SIW-0416-15</td><td class="s p">30</td><td class="s gl">SIW-0416-15G</td><td class="s p">30</td><td class="s gl">UREW-0416-15</td><td class="s p">30</td></tr>
<tr class="g"><td class="s t">2.0</td><td class="s">CRW-0416-20</td><td class="s p">22</td><td class="s gl">CNW-0416-20</td><td class="s p">22</td><td class="s gl">NBW-0416-20</td><td class="s p">22</td><td class="s gl">EPW-0416-20</td><td class="s p">22</td><td class="s gl">SIW-0416-20</td><td class="s p">32</td><td class="s gl">SIW-0416-20G</td><td class="s p">32</td><td class="s gl">UREW-0416-20</td><td class="s p">33</td></tr>

<tr style="border-top:1.5px solid #555"><td rowspan="4">5.0</td><td rowspan="2">8.0</td><td class="s t">0.5</td><td class="s">CRW-0508-05</td><td class="s p">20</td><td class="s gl">CNW-0508-05</td><td class="s p">20</td><td class="s gl">NBW-0508-05</td><td class="s p">20</td><td class="s gl">EPW-0508-05</td><td class="s p">20</td><td class="s gl">SIW-0508-05</td><td class="s p">26</td><td class="s gl">SIW-0508-05G</td><td class="s p">26</td><td class="s gl">UREW-0508-05</td><td class="s p">27</td></tr>
<tr class="g"><td class="s t">1.0</td><td class="s">CRW-0508-10</td><td class="s p">20</td><td class="s gl">CNW-0508-10</td><td class="s p">20</td><td class="s gl">NBW-0508-10</td><td class="s p">20</td><td class="s gl">EPW-0508-10</td><td class="s p">20</td><td class="s gl">SIW-0508-10</td><td class="s p">26</td><td class="s gl">SIW-0508-10G</td><td class="s p">26</td><td class="s gl">UREW-0508-10</td><td class="s p">27</td></tr>
<tr><td rowspan="2">9.0</td><td class="s t">0.5</td><td class="s">CRW-0509-05</td><td class="s p">20</td><td class="s gl">CNW-0509-05</td><td class="s p">20</td><td class="s gl">NBW-0509-05</td><td class="s p">20</td><td class="s gl">EPW-0509-05</td><td class="s p">20</td><td class="s gl">SIW-0509-05</td><td class="s p">26</td><td class="s gl">SIW-0509-05G</td><td class="s p">26</td><td class="s gl">UREW-0509-05</td><td class="s p">27</td></tr>
<tr class="g"><td class="s t">1.0</td><td class="s">CRW-0509-10</td><td class="s p">20</td><td class="s gl">CNW-0509-10</td><td class="s p">20</td><td class="s gl">NBW-0509-10</td><td class="s p">20</td><td class="s gl">EPW-0509-10</td><td class="s p">20</td><td class="s gl">SIW-0509-10</td><td class="s p">26</td><td class="s gl">SIW-0509-10G</td><td class="s p">26</td><td class="s gl">UREW-0509-10</td><td class="s p">27</td></tr>
</table>

<div class="abs" style="left:722px;top:1214px;font-size:10.5px;color:#333;white-space:nowrap">ご注文個数 <b style="font-size:11.5px">50</b>個～</div>
</body></html>
